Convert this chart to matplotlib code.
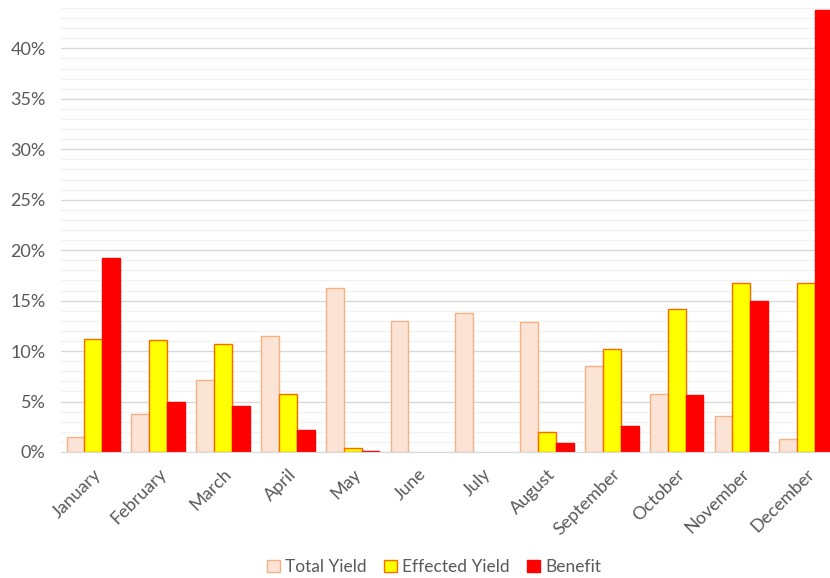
import matplotlib
matplotlib.use("Agg")
import matplotlib.pyplot as plt
import numpy as np
from matplotlib.ticker import MultipleLocator, PercentFormatter
from matplotlib.patches import Patch

months = ["January", "February", "March", "April", "May", "June", "July",
          "August", "September", "October", "November", "December"]
total_yield = [1.5, 3.8, 7.1, 11.5, 16.3, 13.0, 13.8, 12.9, 8.5, 5.7, 3.6, 1.3]
effected_yield = [11.2, 11.1, 10.7, 5.7, 0.4, 0.0, 0.0, 2.0, 10.2, 14.2, 16.7, 16.7]
benefit = [19.2, 5.0, 4.55, 2.2, 0.1, 0.0, 0.0, 0.9, 2.6, 5.6, 15.0, 43.8]

plt.rcParams['font.family'] = ['Lato', 'DejaVu Sans']

fig = plt.figure(figsize=(8.30, 5.78), dpi=100)
ax = fig.add_axes([61/830, 126/578, 777.6/830, 444/578])

x = np.arange(len(months))
w = 0.275
series = [
    ("Total Yield", total_yield, "#FBE3D6", "#F4B183"),
    ("Effected Yield", effected_yield, "#FFFF00", "#FF6A00"),
    ("Benefit", benefit, "#FF0000", "#FF0000"),
]
handles = []
for i, (name, vals, fc, ec) in enumerate(series):
    vals = np.asarray(vals, dtype=float)
    lws = [1.0 if v > 0 else 0.0 for v in vals]
    ax.bar(x + (i - 1) * w, vals, width=w, color=fc, edgecolor=ec,
           linewidth=lws, zorder=3, label=name)
    handles.append(Patch(facecolor=fc, edgecolor=ec, linewidth=1.0, label=name))

ax.set_xlim(-0.5, len(months) - 0.5)
ax.set_ylim(0, 44)
ax.yaxis.set_major_locator(MultipleLocator(5))
ax.yaxis.set_minor_locator(MultipleLocator(1))
ax.yaxis.set_major_formatter(PercentFormatter(decimals=0))
ax.grid(which='major', axis='y', color='#D9D9D9', linewidth=1.0, zorder=0)
ax.grid(which='minor', axis='y', color='#F2F2F2', linewidth=1.0, zorder=0)
for s in ['top', 'right', 'left']:
    ax.spines[s].set_visible(False)
ax.spines['bottom'].set_color('#D9D9D9')
ax.spines['bottom'].set_zorder(4)

fs = 13
ax.set_xticks(x)
ax.set_xticklabels(months, rotation=45, ha='right', rotation_mode='anchor')
ax.tick_params(axis='x', length=0, pad=10, labelsize=fs, labelcolor='#595959')
ax.tick_params(axis='y', which='both', length=0, pad=11, labelsize=fs, labelcolor='#595959')

fig.legend(handles=handles, loc='center', bbox_to_anchor=(434/830, 1 - 567/578),
           ncol=3, frameon=False, fontsize=12.5, labelcolor='#595959',
           handlelength=0.75, handleheight=0.75, handletextpad=0.3, columnspacing=1.0)

fig.savefig("out.png", dpi=100)
